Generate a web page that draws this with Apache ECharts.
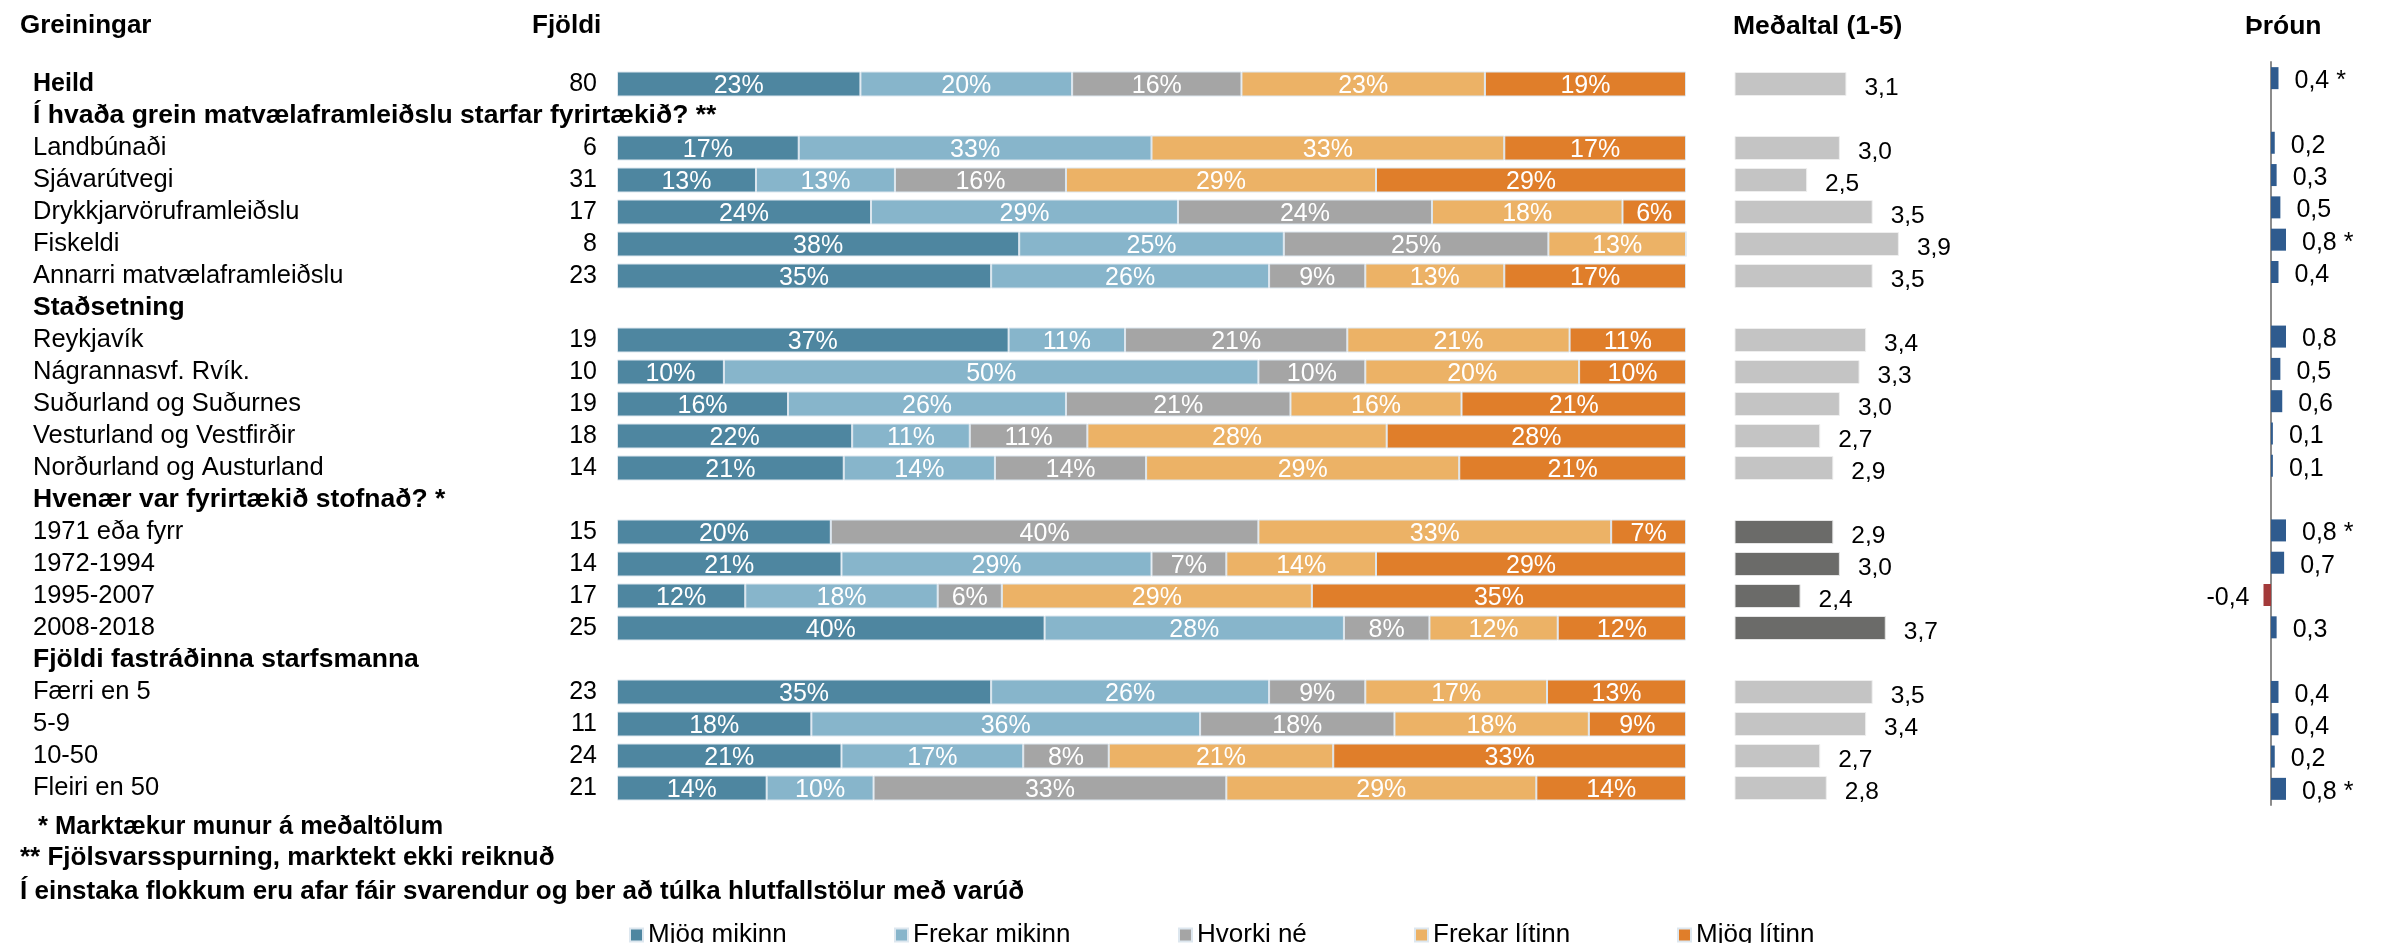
<!DOCTYPE html>
<html>
<head>
<meta charset="utf-8">
<title>Greiningar</title>
<script src="https://cdn.jsdelivr.net/npm/echarts@6/dist/echarts.min.js"></script>
<style>
  html, body { margin: 0; padding: 0; background: #fff; }
  #main { width: 2382px; height: 943px; }
</style>
</head>
<body>
<div id="main"></div>
<script>
// raðir (hausar hópa eru með í listanum, án gilda)
var rows = ['Heild', 'Í hvaða grein matvælaframleiðslu starfar fyrirtækið? **', 'Landbúnaði', 'Sjávarútvegi',
  'Drykkjarvöruframleiðslu', 'Fiskeldi', 'Annarri matvælaframleiðslu', 'Staðsetning', 'Reykjavík',
  'Nágrannasvf. Rvík.', 'Suðurland og Suðurnes', 'Vesturland og Vestfirðir', 'Norðurland og Austurland',
  'Hvenær var fyrirtækið stofnað? *', '1971 eða fyrr', '1972-1994', '1995-2007', '2008-2018',
  'Fjöldi fastráðinna starfsmanna', 'Færri en 5', '5-9', '10-50', 'Fleiri en 50'];
var headerRows = ['Í hvaða grein matvælaframleiðslu starfar fyrirtækið? **', 'Staðsetning',
  'Hvenær var fyrirtækið stofnað? *', 'Fjöldi fastráðinna starfsmanna'];
var counts = [80, null, 6, 31, 17, 8, 23, null, 19, 10, 19, 18, 14, null, 15, 14, 17, 25, null, 23, 11, 24, 21];

var answerNames = ['Mjög mikinn', 'Frekar mikinn', 'Hvorki né', 'Frekar lítinn', 'Mjög lítinn'];
var mjogMikinn   = [23, null, 17, 13, 24, 38, 35, null, 37, 10, 16, 22, 21, null, 20, 21, 12, 40, null, 35, 18, 21, 14];
var frekarMikinn = [20, null, 33, 13, 29, 25, 26, null, 11, 50, 26, 11, 14, null, 0, 29, 18, 28, null, 26, 36, 17, 10];
var hvorkiNe     = [16, null, 0, 16, 24, 25, 9, null, 21, 10, 21, 11, 14, null, 40, 7, 6, 8, null, 9, 18, 8, 33];
var frekarLitinn = [23, null, 33, 29, 18, 13, 13, null, 21, 20, 16, 28, 29, null, 33, 14, 29, 12, null, 17, 18, 21, 29];
var mjogLitinn   = [19, null, 17, 29, 6, 0, 17, null, 11, 10, 21, 28, 21, null, 7, 29, 35, 12, null, 13, 9, 33, 14];

var medaltal = [3.1, null, 3.0, 2.5, 3.5, 3.9, 3.5, null, 3.4, 3.3, 3.0, 2.7, 2.9, null, 2.9, 3.0, 2.4, 3.7, null, 3.5, 3.4, 2.7, 2.8];
var dokkarRadir = ['1971 eða fyrr', '1972-1994', '1995-2007', '2008-2018'];

var throun = [0.4, null, 0.2, 0.3, 0.5, 0.8, 0.4, null, 0.8, 0.5, 0.6, 0.1, 0.1, null, 0.8, 0.7, -0.4, 0.3, null, 0.4, 0.4, 0.2, 0.8];
var marktaekt = ['Heild', 'Fiskeldi', '1971 eða fyrr', 'Fleiri en 50'];

var footnotes = ['* Marktækur munur á meðaltölum', '** Fjölsvarsspurning, marktekt ekki reiknuð',
  'Í einstaka flokkum eru afar fáir svarendur og ber að túlka hlutfallstölur með varúð'];

var answerData = [mjogMikinn, frekarMikinn, hvorkiNe, frekarLitinn, mjogLitinn];
var colors = ['#4e86a0', '#87b5cb', '#a5a5a5', '#ecb266', '#e07e2a'];
var font = 'Liberation Sans, Arial, sans-serif';

function komma(v) { return v.toFixed(1).replace('.', ','); }

var rowSums = rows.map(function (r, i) {
  var s = 0;
  answerData.forEach(function (a) { s += a[i] || 0; });
  return s;
});

var myChart = echarts.init(document.getElementById('main'));

var stackSeries = answerData.map(function (arr, k) {
  return {
    name: answerNames[k],
    type: 'bar',
    stack: 'svor',
    xAxisIndex: 0,
    yAxisIndex: 0,
    barWidth: 25,
    data: arr.map(function (v, i) { return v == null ? null : v / rowSums[i] * 100; }),
    itemStyle: { color: colors[k], borderColor: '#dde7ef', borderWidth: 1 },
    label: {
      show: true,
      color: '#fff',
      fontSize: 25,
      offset: [0, 2],
      formatter: function (p) {
        var v = arr[p.dataIndex];
        return v ? v + '%' : '';
      }
    }
  };
});

var legends = answerNames.map(function (n, k) {
  return {
    data: [n],
    left: [624, 889, 1173, 1409, 1672][k],
    top: 917,
    icon: 'rect',
    itemWidth: 13,
    itemHeight: 13,
    selectedMode: false,
    textStyle: { fontSize: 26, color: '#000', fontFamily: font }
  };
});

function titleText(text, left, centerY, size) {
  return {
    text: text, left: left, top: centerY - 16,
    textStyle: { fontSize: size, fontWeight: 'bold', color: '#000', lineHeight: 32, fontFamily: font }
  };
}

option = {
  animation: false,
  textStyle: { fontFamily: font },
  title: [
    titleText('Greiningar', 15, 21, 26),
    titleText('Fjöldi', 527, 21, 26),
    titleText('Meðaltal (1-5)', 1728, 22, 26.5),
    titleText('Þróun', 2240, 22, 26.5),
    titleText(footnotes[0], 33, 822, 25.5),
    titleText(footnotes[1], 15, 853, 26),
    titleText(footnotes[2], 15, 887, 26)
  ],
  legend: legends,
  grid: [
    { left: 617, width: 1069, top: 68, height: 736 },
    { left: 1735, width: 236, top: 68, height: 736 },
    { left: 2196, width: 150, top: 62, height: 743 }
  ],
  xAxis: [
    { gridIndex: 0, type: 'value', min: 0, max: 100, show: false },
    { gridIndex: 1, type: 'value', min: 1.4, max: 5, show: false },
    { gridIndex: 2, type: 'value', min: -4, max: 4, axisLabel: { show: false }, axisTick: { show: false },
      axisLine: { show: false }, splitLine: { show: false } }
  ],
  yAxis: [
    {
      gridIndex: 0, type: 'category', data: rows, inverse: true,
      axisLine: { show: false }, axisTick: { show: false },
      axisLabel: {
        interval: 0, align: 'left', margin: 584,
        formatter: function (v) {
          if (v === 'Heild') return '{b|' + v + '}';
          return headerRows.indexOf(v) >= 0 ? '{h|' + v + '}' : '{n|' + v + '}';
        },
        rich: {
          b: { fontSize: 25, fontWeight: 'bold', color: '#000', fontFamily: font },
          h: { fontSize: 26.5, fontWeight: 'bold', color: '#000', fontFamily: font },
          n: { fontSize: 25.5, color: '#000', fontFamily: font }
        }
      }
    },
    {
      gridIndex: 0, type: 'category', data: rows, inverse: true, position: 'left',
      axisLine: { show: false }, axisTick: { show: false },
      axisLabel: {
        interval: 0, align: 'right', margin: 20, fontSize: 25, color: '#000',
        formatter: function (v, i) { return counts[i] == null ? '' : String(counts[i]); }
      }
    },
    { gridIndex: 1, type: 'category', data: rows, inverse: true, show: false },
    {
      gridIndex: 2, type: 'category', data: rows, inverse: true,
      axisTick: { show: false }, axisLabel: { show: false },
      axisLine: { show: true, onZero: true, lineStyle: { color: '#8c8c8c', width: 2 } }
    }
  ],
  series: stackSeries.concat([
    {
      name: 'Meðaltal',
      type: 'bar',
      xAxisIndex: 1,
      yAxisIndex: 2,
      barWidth: 24,
      data: medaltal.map(function (v, i) {
        if (v == null) return null;
        var dark = dokkarRadir.indexOf(rows[i]) >= 0;
        return {
          value: v,
          itemStyle: { color: dark ? '#6b6b69' : '#c4c4c4', borderColor: dark ? '#e6e6e6' : '#eeeeee', borderWidth: 1 }
        };
      }),
      label: {
        show: true, position: 'right', distance: 18, fontSize: 24.5, color: '#000', offset: [0, 4],
        formatter: function (p) { return komma(p.value); }
      }
    },
    {
      name: 'Þróun',
      type: 'bar',
      xAxisIndex: 2,
      yAxisIndex: 3,
      barWidth: 22,
      data: throun.map(function (v, i) {
        if (v == null) return null;
        return {
          value: v,
          itemStyle: { color: v < 0 ? '#a33a3a' : '#2f5b8e' },
          label: { position: v < 0 ? 'left' : 'right', distance: v < 0 ? 14 : 16 }
        };
      }),
      label: {
        show: true, fontSize: 25, color: '#000', offset: [0, 3],
        formatter: function (p) {
          return komma(p.value) + (marktaekt.indexOf(rows[p.dataIndex]) >= 0 ? ' *' : '');
        }
      }
    }
  ])
};
myChart.setOption(option);
</script>
</body>
</html>
